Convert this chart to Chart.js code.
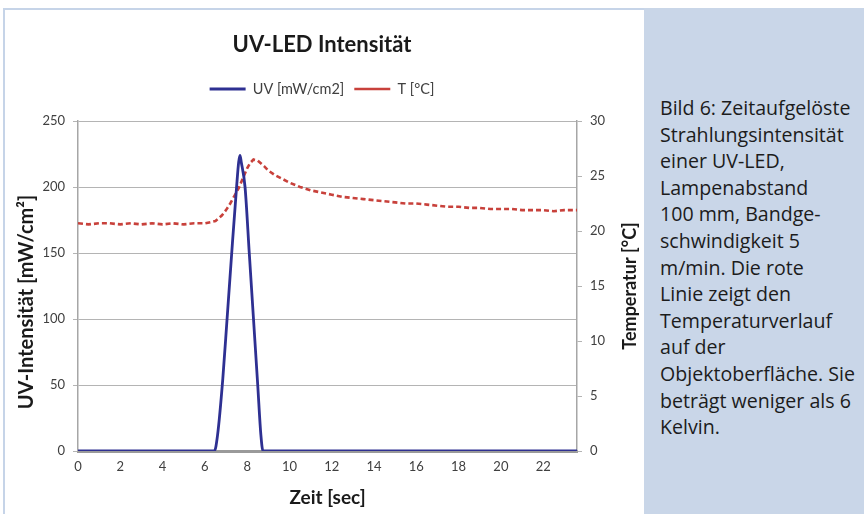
<!DOCTYPE html>
<html><head><meta charset="utf-8">
<script src="https://cdn.jsdelivr.net/npm/chart.js@4"></script>
<style>
html,body{margin:0;padding:0;background:#fff;}
body{width:864px;height:514px;position:relative;overflow:hidden;}
#wrap{position:absolute;left:0;top:0;width:644px;height:514px;}
#frameL{position:absolute;left:3px;top:8px;width:2px;height:506px;background:#c6d4e8;}
#frameT{position:absolute;left:3px;top:8px;width:641px;height:2px;background:#c6d4e8;}
#panel{position:absolute;left:644px;top:8px;width:220px;height:506px;background:#c9d6e8;font-family:'Open Sans';font-size:19.6px;line-height:26.6px;color:#1c1c1c;}
#panel .t{position:absolute;left:16px;top:87px;white-space:nowrap;}
</style></head>
<body>
<div id="wrap"><canvas id="c" width="644" height="514"></canvas></div>
<div id="frameL"></div><div id="frameT"></div>
<div id="panel"><div class="t">Bild 6: Zeitaufgelöste<br>Strahlungsintensität<br>einer UV-LED,<br>Lampenabstand<br>100 mm, Bandge-<br>schwindigkeit 5<br>m/min. Die rote<br>Linie zeigt den<br>Temperaturverlauf<br>auf der<br>Objektoberfläche. Sie<br>beträgt weniger als 6<br>Kelvin.</div></div>
<script>
// ---- data ----
const chartTitle = 'UV-LED Intensität';
const uvLabel = 'UV [mW/cm2]';
const tLabel = 'T [°C]';
const xTitle = 'Zeit [sec]';
const yTitle = 'UV-Intensität [mW/cm²]';
const y1Title = 'Temperatur [°C]';

const uvTime  = [0, 6.45, 6.6, 6.85, 7.05, 7.27, 7.5, 7.6, 7.66, 7.72, 7.9, 8.1, 8.3, 8.5, 8.65, 8.75, 23.6];
const uvValue = [0, 0,    12,  55,   100,  150,  200, 219, 224,  219,  200, 150, 100, 50,  12,   0,    0];

const tTime  = [0, 0.5, 1, 1.5, 2, 2.5, 3, 3.5, 4, 4.5, 5, 5.5, 6, 6.5, 6.8, 7.0, 7.2, 7.4, 7.6, 7.8, 8.0, 8.15, 8.3, 8.5, 8.8, 9.0, 9.3, 9.6, 10, 10.5, 11, 11.5, 12, 12.5, 13, 13.5, 14, 14.5, 15, 15.5, 16, 16.5, 17, 17.5, 18, 18.5, 19, 19.5, 20, 20.5, 21, 21.5, 22, 22.5, 23, 23.6];
const tValue = [20.7, 20.6, 20.7, 20.7, 20.6, 20.7, 20.6, 20.7, 20.6, 20.7, 20.6, 20.7, 20.7, 20.9, 21.4, 21.9, 22.5, 23.2, 23.9, 24.8, 25.7, 26.2, 26.5, 26.4, 25.9, 25.5, 25.1, 24.8, 24.4, 24.0, 23.7, 23.5, 23.3, 23.1, 23.0, 22.9, 22.8, 22.7, 22.6, 22.5, 22.5, 22.4, 22.3, 22.2, 22.2, 22.1, 22.1, 22.0, 22.0, 22.0, 21.9, 21.9, 21.9, 21.8, 21.9, 21.9];

const xTicks = [0, 2, 4, 6, 8, 10, 12, 14, 16, 18, 20, 22];
const xMin = 0, xMax = 23.6;
const yMin = 0, yMax = 250, yStep = 50;
const y1Min = 0, y1Max = 30, y1Step = 5;

// ---- chart ----
const uvPoints = uvTime.map((t, i) => ({x: t, y: uvValue[i]}));
const tPoints = tTime.map((t, i) => ({x: t, y: tValue[i]}));

const tickFont = {family: 'Lato', size: 13};
const tickColor = '#404040';
const gridColor = '#b4b4b4';
const axisColor = '#a6a6a6';

const axisTitles = {
  id: 'axisTitles',
  afterDraw(c) {
    const ctx = c.ctx;
    ctx.save();
    ctx.fillStyle = '#1a1a1a';
    ctx.textAlign = 'center';
    ctx.textBaseline = 'middle';
    ctx.font = 'bold 20px Lato';
    ctx.translate(27, 302);
    ctx.rotate(-Math.PI / 2);
    ctx.fillText(yTitle, 0, 0);
    ctx.restore();
    ctx.save();
    ctx.fillStyle = '#1a1a1a';
    ctx.textAlign = 'center';
    ctx.textBaseline = 'middle';
    ctx.font = 'bold 18px Lato';
    ctx.translate(630, 286);
    ctx.rotate(-Math.PI / 2);
    ctx.fillText(y1Title, 0, 0);
    ctx.restore();
  }
};

new Chart(document.getElementById('c'), {
  type: 'line',
  data: {
    datasets: [
      {label: uvLabel, data: uvPoints, yAxisID: 'y', borderColor: '#2e3092', backgroundColor: '#2e3092',
       borderWidth: 2.8, pointRadius: 0, cubicInterpolationMode: 'monotone'},
      {label: tLabel, data: tPoints, yAxisID: 'y1', borderColor: '#c8413b', backgroundColor: '#c8413b',
       borderWidth: 2.6, borderDash: [5, 3], pointRadius: 0}
    ]
  },
  options: {
    responsive: false,
    animation: false,
    layout: {padding: {left: 0, right: 0, top: 0, bottom: 0}},
    plugins: {
      title: {display: true, text: chartTitle, color: '#1a1a1a',
              font: {family: 'Lato', size: 22, weight: 'bold'}, padding: {top: 32, bottom: 13.35}},
      legend: {display: true,
               labels: {usePointStyle: true, pointStyle: 'line', pointStyleWidth: 36, color: '#404040',
                        font: {family: 'Lato', size: 14.5}, padding: 10}},
      subtitle: {display: true, text: '', weight: 500, position: 'top',
                 font: {family: 'Lato', size: 10}, padding: {top: 0, bottom: 2.75}},
      tooltip: {enabled: false}
    },
    scales: {
      x: {type: 'linear', min: xMin, max: xMax,
          afterBuildTicks: s => { s.ticks = xTicks.map(v => ({value: v})); },
          afterFit: s => { s.height = 63; },
          ticks: {padding: 8, font: tickFont, color: tickColor, maxRotation: 0, autoSkip: false},
          grid: {display: false, drawTicks: false},
          border: {color: '#9a9a9a', width: 3},
          title: {display: true, text: xTitle, color: '#1a1a1a', font: {family: 'Lato', size: 19, weight: 'bold'}, padding: {top: 0, bottom: 5}}
      },
      y: {position: 'left', min: yMin, max: yMax,
          afterFit: s => { s.width = 78; },
          ticks: {stepSize: yStep, padding: 8, font: tickFont, color: tickColor},
          grid: {color: gridColor, lineWidth: 1, tickLength: 5},
          border: {color: axisColor, width: 1.5},
          title: {display: false, text: yTitle}
      },
      y1: {position: 'right', min: y1Min, max: y1Max,
           afterFit: s => { s.width = 67; },
           ticks: {stepSize: y1Step, padding: 8, font: tickFont, color: tickColor},
           grid: {drawOnChartArea: false, color: gridColor, tickLength: 5},
           border: {color: axisColor, width: 1.5},
           title: {display: false, text: y1Title}
      }
    }
  },
  plugins: [axisTitles]
});
</script>
</body></html>
